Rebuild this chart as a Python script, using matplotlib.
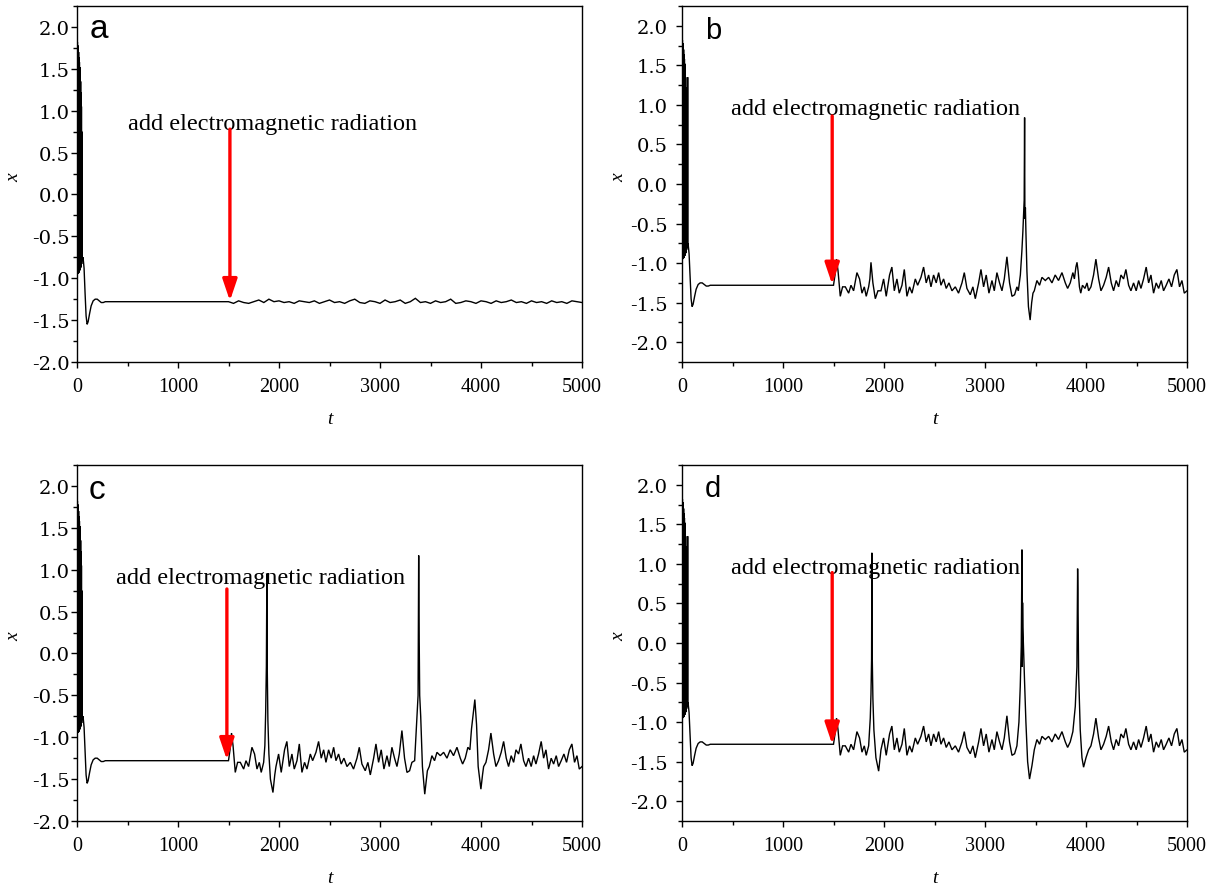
import numpy as np
import matplotlib
matplotlib.use("Agg")
import matplotlib.pyplot as plt
from matplotlib.ticker import MultipleLocator, FormatStrFormatter

plt.rcParams['axes.unicode_minus'] = False

# ---------------- data ----------------
# initial transient (shared by all panels)
burst_t = list(range(0, 52, 2))
burst_x = [1.85, -0.92, 1.82, -0.95, 1.78, -0.93, 1.74, -0.94, 1.70, -0.92,
           1.64, -0.93, 1.58, -0.91, 1.52, -0.90, 1.45, -0.88, 1.35, -0.87,
           1.22, -0.85, 1.05, -0.83, 0.75, -0.78]
kick_t = [53, 55, 56, 57, 59]            # extra early spike visible in b and d
kick_x = [-0.80, 0.60, 1.35, 0.60, -0.76]
tail_t = [60, 70, 80, 90, 100, 110, 125, 140, 160, 180, 200, 220, 240, 260, 280, 300]
tail_x = [-0.75, -0.88, -1.18, -1.45, -1.55, -1.52, -1.42, -1.33, -1.27, -1.25,
          -1.25, -1.27, -1.29, -1.29, -1.28, -1.28]

# panel a: weak fluctuation after t = 1500 (every 50 time units)
a_post_t = list(range(1500, 5001, 50))
a_post_x = [-1.28, -1.30, -1.27, -1.29, -1.30, -1.28, -1.26, -1.29, -1.25, -1.28,
            -1.27, -1.29, -1.28, -1.30, -1.27, -1.28, -1.29, -1.27, -1.30, -1.28,
            -1.26, -1.29, -1.28, -1.30, -1.27, -1.25, -1.29, -1.30, -1.27, -1.28,
            -1.30, -1.26, -1.29, -1.28, -1.26, -1.30, -1.28, -1.24, -1.29, -1.28,
            -1.30, -1.27, -1.29, -1.28, -1.25, -1.30, -1.29, -1.27, -1.28, -1.30,
            -1.27, -1.28, -1.30, -1.27, -1.29, -1.28, -1.26, -1.29, -1.28, -1.30,
            -1.27, -1.29, -1.28, -1.30, -1.27, -1.29, -1.28, -1.30, -1.27, -1.28, -1.29]

# panels b, c, d: common fluctuation after t = 1500
base_t = [1500, 1515, 1530, 1545, 1567, 1590, 1617, 1650, 1673, 1699, 1732, 1758, 1782, 1805, 1824, 1848,
          1970, 1996, 2022, 2055, 2078, 2102, 2128, 2151, 2178, 2201, 2227, 2253, 2277, 2310, 2333, 2366,
          2392, 2418, 2442, 2465, 2491, 2517, 2541, 2564, 2590, 2616, 2643, 2673, 2706, 2738, 2772, 2795,
          2821, 2854, 2880, 2904, 2937, 2960, 2986, 3012, 3039, 3069, 3092, 3118, 3144, 3168, 3191, 3217,
          3243, 3267, 3293, 3316,
          3488, 3514, 3540, 3564, 3597, 3630, 3663, 3695, 3728, 3762, 3795, 3818, 3844, 3870,
          4026, 4049, 4075, 4098, 4125, 4148, 4174, 4200, 4224, 4250, 4273, 4299, 4323, 4346, 4372, 4395,
          4422, 4445, 4471, 4497, 4521, 4544, 4570, 4596, 4620, 4643, 4669, 4695, 4719, 4745, 4768, 4794,
          4821, 4847, 4874, 4900, 4926, 4950, 4973, 5000]
base_x = [-1.28, -1.15, -0.95, -1.10, -1.42, -1.30, -1.30, -1.38, -1.28, -1.35, -1.12, -1.20, -1.38, -1.30, -1.42, -1.30,
          -1.35, -1.20, -1.42, -1.15, -1.05, -1.35, -1.20, -1.38, -1.28, -1.08, -1.42, -1.30, -1.38, -1.20, -1.28, -1.18,
          -1.05, -1.25, -1.15, -1.30, -1.15, -1.25, -1.12, -1.28, -1.20, -1.32, -1.25, -1.35, -1.30, -1.38, -1.25, -1.12,
          -1.32, -1.40, -1.30, -1.45, -1.25, -1.08, -1.30, -1.15, -1.38, -1.22, -1.35, -1.12, -1.25, -1.35, -1.20, -0.92,
          -1.25, -1.42, -1.40, -1.30,
          -1.35, -1.22, -1.28, -1.18, -1.22, -1.18, -1.25, -1.15, -1.22, -1.12, -1.25, -1.32, -1.25, -1.12,
          -1.35, -1.30, -1.15, -0.95, -1.20, -1.35, -1.28, -1.18, -1.05, -1.25, -1.35, -1.22, -1.30, -1.15, -1.20, -1.08,
          -1.28, -1.35, -1.25, -1.35, -1.22, -1.32, -1.20, -1.05, -1.25, -1.15, -1.38, -1.25, -1.32, -1.22, -1.35, -1.28,
          -1.20, -1.30, -1.15, -1.08, -1.30, -1.22, -1.38, -1.35]

# panel-specific events (bursts) inserted into the common fluctuation
b_ev_t = [1860, 1871, 1890, 1914, 1940,
          3330, 3350, 3365, 3375, 3383, 3388, 3392, 3395, 3400, 3405, 3415, 3430, 3447, 3462, 3475,
          3885, 3900, 3911, 3922, 3935, 3948, 3965, 3990, 4010]
b_ev_x = [-1.20, -0.99, -1.25, -1.45, -1.35,
          -1.35, -1.15, -0.85, -0.60, -0.35, -0.20, 0.84, -0.44, -0.30, -0.60, -1.10, -1.55, -1.72, -1.50, -1.38,
          -1.20, -1.05, -0.99, -1.10, -1.30, -1.38, -1.28, -1.32, -1.25]

c_ev_t = [1860, 1868, 1875, 1880, 1884, 1890, 1900, 1915, 1940, 1958,
          3343, 3367, 3377, 3383, 3386, 3393, 3403, 3420, 3443, 3469,
          3890, 3906, 3925, 3939, 3956, 3972, 3999, 4015]
c_ev_x = [-1.10, -0.70, -0.15, 0.95, -0.20, -0.80, -1.20, -1.50, -1.66, -1.45,
          -1.28, -0.72, -0.50, 1.17, 0.46, -0.50, -0.75, -1.35, -1.68, -1.40,
          -1.15, -0.90, -0.70, -0.55, -0.85, -1.35, -1.62, -1.45]

d_ev_t = [1864, 1871, 1877, 1880, 1884, 1890, 1900, 1920, 1947,
          3336, 3349, 3359, 3366, 3369, 3372, 3375, 3382, 3392, 3405, 3422, 3441, 3465,
          3894, 3910, 3917, 3920, 3927, 3943, 3960, 3976, 4000]
d_ev_x = [-0.95, -0.65, -0.20, 1.14, -0.20, -0.70, -1.10, -1.45, -1.62,
          -1.00, -0.55, -0.04, 1.18, -0.30, 0.51, 0.20, -0.10, -0.50, -1.00, -1.50, -1.72, -1.55,
          -0.80, -0.30, 0.94, 0.68, -0.40, -1.10, -1.45, -1.57, -1.45]

panel_letters = ['a', 'b', 'c', 'd']
annot_text = 'add electromagnetic radiation'
xticks = [0, 1000, 2000, 3000, 4000, 5000]


def merge(t1, x1, t2, x2):
    t = np.array(list(t1) + list(t2), dtype=float)
    x = np.array(list(x1) + list(x2), dtype=float)
    order = np.argsort(t, kind='stable')
    return t[order], x[order]


def transient(with_kick):
    t = list(burst_t) + (list(kick_t) if with_kick else []) + list(tail_t)
    x = list(burst_x) + (list(kick_x) if with_kick else []) + list(tail_x)
    return t, x


series = {}
tt, xx = transient(False)
series['a'] = (np.array(tt + a_post_t, float), np.array(xx + a_post_x, float))
for key, evt, evx, kick in [('b', b_ev_t, b_ev_x, True), ('c', c_ev_t, c_ev_x, False),
                            ('d', d_ev_t, d_ev_x, True)]:
    pt, px = merge(base_t, base_x, evt, evx)
    tt, xx = transient(kick)
    series[key] = (np.concatenate([np.array(tt, float), pt]), np.concatenate([np.array(xx, float), px]))

# ---------------- layout ----------------
W, H = 1213, 887
fig = plt.figure(figsize=(W / 100, H / 100), dpi=100)

boxes = {'a': (77, 7, 582, 363), 'b': (682, 7, 1187, 363),
         'c': (77, 466, 582, 822), 'd': (682, 466, 1187, 822)}
ylims = {'a': (-2.0, 2.25), 'b': (-2.25, 2.25), 'c': (-2.0, 2.25), 'd': (-2.25, 2.25)}
ypads = {'a': 0.5, 'b': 6, 'c': 0.5, 'd': 6}
letter_pos = {'a': (0.025, 0.912, 24), 'b': (0.045, 0.909, 21),
              'c': (0.024, 0.907, 24), 'd': (0.045, 0.914, 21)}
text_pos = {'a': (500, 0.78), 'b': (488, 0.88), 'c': (388, 0.84), 'd': (488, 0.89)}
arrow_geom = {'a': (1514, 0.78, -1.27), 'b': (1487, 0.86, -1.27),
              'c': (1484, 0.77, -1.27), 'd': (1487, 0.89, -1.28)}

serif = 'Liberation Serif'

for key in panel_letters:
    l, t, r, b = boxes[key]
    ax = fig.add_axes([l / W, 1 - b / H, (r - l) / W, (b - t) / H])
    ts, xs = series[key]
    ax.plot(ts, xs, color='black', lw=1.0, solid_joinstyle='miter')
    ax.set_xlim(0, 5000)
    ax.set_ylim(*ylims[key])

    ax.xaxis.set_major_locator(MultipleLocator(1000))
    ax.xaxis.set_minor_locator(MultipleLocator(500))
    ax.yaxis.set_major_locator(MultipleLocator(0.5))
    ax.yaxis.set_minor_locator(MultipleLocator(0.25))
    ax.yaxis.set_major_formatter(FormatStrFormatter('%.1f'))
    ax.set_yticks([v / 2 for v in range(-4, 5)])
    ax.set_xticks(xticks)

    ax.tick_params(which='both', direction='out', top=False, right=False, width=1.0)
    ax.tick_params(which='major', length=4.5)
    ax.tick_params(which='minor', length=3)
    ax.tick_params(axis='x', which='major', pad=6)
    ax.tick_params(axis='y', which='major', pad=ypads[key])
    for lab in ax.get_xticklabels():
        lab.set_fontfamily(serif)
        lab.set_fontsize(14.5)
    for lab in ax.get_yticklabels():
        lab.set_fontfamily('DejaVu Serif')
        lab.set_fontsize(14)
    for sp in ax.spines.values():
        sp.set_linewidth(1.0)

    ax.set_ylabel('x', family=serif, style='italic', fontsize=14, rotation=90)
    ax.yaxis.set_label_coords(-55 / 505, 0.52)
    ax.set_xlabel('t', family=serif, style='italic', fontsize=14, va='center')
    ax.xaxis.set_label_coords(0.5, -57 / 356)

    lx, ly, lfs = letter_pos[key]
    ax.text(lx, ly, key, transform=ax.transAxes, family='Liberation Sans',
            fontsize=lfs, ha='left', va='baseline')

    tx, ty = text_pos[key]
    ax.text(tx, ty, annot_text, family=serif, fontsize=17.5, ha='left', va='baseline')

    ax_t, a_top, a_tip = arrow_geom[key]
    ax.annotate('', xy=(ax_t, a_tip), xytext=(ax_t, a_top),
                arrowprops=dict(arrowstyle='-|>,head_length=0.65,head_width=0.22',
                                color='#ff0000', lw=2.4, mutation_scale=20,
                                shrinkA=0, shrinkB=0))

fig.savefig('out.png', dpi=100)
